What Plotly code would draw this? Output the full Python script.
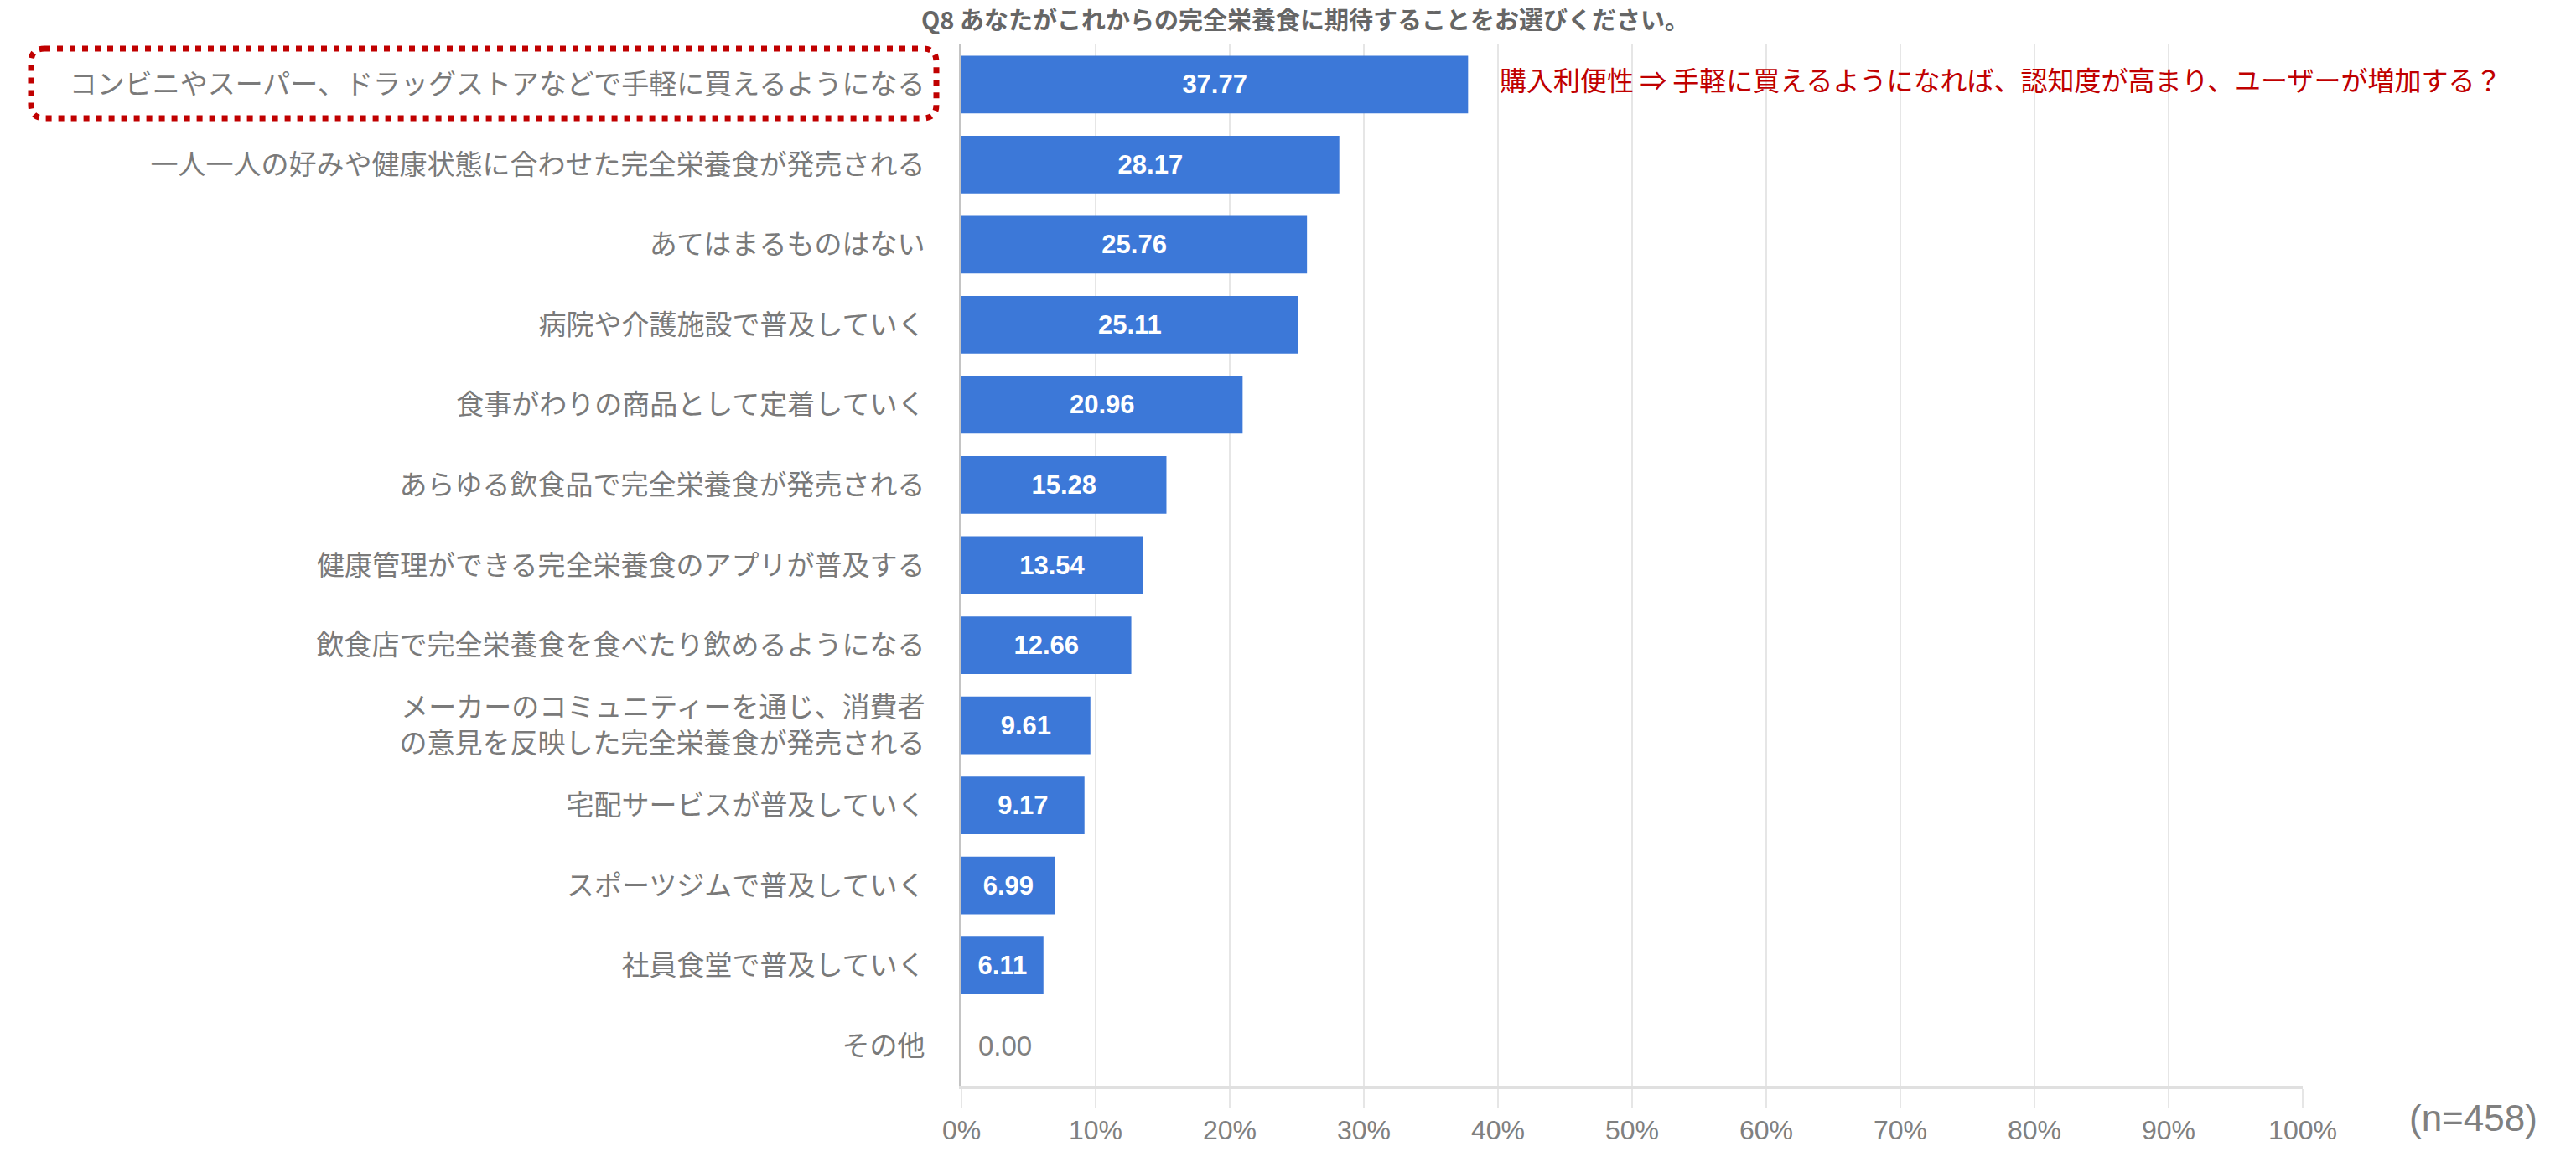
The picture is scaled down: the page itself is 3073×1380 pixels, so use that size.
import plotly.graph_objects as go

# survey answers (Q8), top to bottom
categories = [
    "コンビニやスーパー、ドラッグストアなどで手軽に買えるようになる",
    "一人一人の好みや健康状態に合わせた完全栄養食が発売される",
    "あてはまるものはない",
    "病院や介護施設で普及していく",
    "食事がわりの商品として定着していく",
    "あらゆる飲食品で完全栄養食が発売される",
    "健康管理ができる完全栄養食のアプリが普及する",
    "飲食店で完全栄養食を食べたり飲めるようになる",
    "メーカーのコミュニティーを通じ、消費者<br>の意見を反映した完全栄養食が発売される",
    "宅配サービスが普及していく",
    "スポーツジムで普及していく",
    "社員食堂で普及していく",
    "その他",
]
values = [37.77, 28.17, 25.76, 25.11, 20.96, 15.28, 13.54, 12.66, 9.61, 9.17, 6.99, 6.11, 0.00]
x_ticks = list(range(0, 101, 10))
x_ticktext = [f"{v}%" for v in x_ticks]

title_text = "Q8 あなたがこれからの完全栄養食に期待することをお選びください。"
note_text = "購入利便性 ⇒ 手軽に買えるようになれば、認知度が高まり、ユーザーが増加する？"
n_text = "(n=458)"

W, H = 3073, 1380
L, R, T, B = 1147, 326, 53, 85
JP = "Noto Sans CJK JP, Noto Sans, sans-serif"
LAT = "Liberation Sans, Arial, sans-serif"
GRAY = "#7a7a7a"
RED = "#c00000"


def px_x(p):
    return (p - L) / (W - L - R)


def px_y(p):
    return (H - B - p) / (H - T - B)


fig = go.Figure()
fig.add_bar(
    x=values,
    y=categories,
    orientation="h",
    marker=dict(color="#3c78d8", line=dict(width=0)),
    texttemplate="%{x:.2f}",
    textposition=["inside" if v > 0 else "none" for v in values],
    insidetextanchor="middle",
    textangle=0,
    constraintext="none",
    insidetextfont=dict(family=LAT, size=31, color="white", weight="bold"),
    cliponaxis=False,
    hoverinfo="skip",
)

# zero-valued bars get their value written just right of the axis
for c, v in zip(categories, values):
    if v == 0:
        fig.add_annotation(x=v, y=c, xref="x", yref="y", text=f"{v:.2f}",
                           showarrow=False, xanchor="left", yanchor="middle", xshift=18,
                           font=dict(family=LAT, size=33, color="#808080"))

# red dotted rounded box around the first label
x0, x1 = px_x(37), px_x(1117)
y0, y1 = px_y(141), px_y(58)
rx, ry = 16 / (W - L - R), 16 / (H - T - B)
path = (
    f"M {x0 + rx} {y1} L {x1 - rx} {y1} Q {x1} {y1} {x1} {y1 - ry} "
    f"L {x1} {y0 + ry} Q {x1} {y0} {x1 - rx} {y0} "
    f"L {x0 + rx} {y0} Q {x0} {y0} {x0} {y0 + ry} "
    f"L {x0} {y1 - ry} Q {x0} {y1} {x0 + rx} {y1} Z"
)
fig.add_shape(type="path", path=path, xref="paper", yref="paper",
              line=dict(color=RED, width=7, dash="7px,8px"))

fig.add_annotation(x=40, y=categories[0], xref="x", yref="y", text=note_text,
                   showarrow=False, xanchor="left", yanchor="middle", xshift=0, yshift=7,
                   font=dict(family=JP, size=32, color=RED))
fig.add_annotation(x=px_x(2950), y=px_y(1333), xref="paper", yref="paper", text=n_text,
                   showarrow=False, xanchor="center", yanchor="middle",
                   font=dict(family=LAT, size=44, color="#808080"))

fig.update_layout(
    width=W, height=H,
    margin=dict(l=L, r=R, t=T, b=B, pad=0),
    paper_bgcolor="white", plot_bgcolor="white",
    showlegend=False,
    bargap=0.28,
    title=dict(text=f"<b>{title_text}</b>", x=1557 / W, xref="container", xanchor="center",
               y=1 - 25 / H, yref="container", yanchor="middle",
               font=dict(family=JP, size=29, color="#666666")),
    xaxis=dict(range=[0, 100], tickvals=x_ticks, ticktext=x_ticktext,
               showgrid=True, gridcolor="#e6e6e6", gridwidth=2, zeroline=False,
               showline=True, linecolor="#e0e0e0", linewidth=4,
               ticks="outside", ticklen=22, tickcolor="#e6e6e6", tickwidth=2,
               tickfont=dict(family=LAT, size=32, color="#808080"),
               fixedrange=True),
    yaxis=dict(categoryorder="array", categoryarray=categories, autorange="reversed",
               showline=True, linecolor="#c4c4c4", linewidth=3, showgrid=False,
               ticks="", ticklabelstandoff=34,
               tickfont=dict(family=JP, size=33, color=GRAY),
               fixedrange=True),
)

# the page body has a default 8px margin; drop it so the chart sits at the window origin
fig.write_html("out.html", config={"displayModeBar": False},
               post_script="document.body.style.margin='0px';")
